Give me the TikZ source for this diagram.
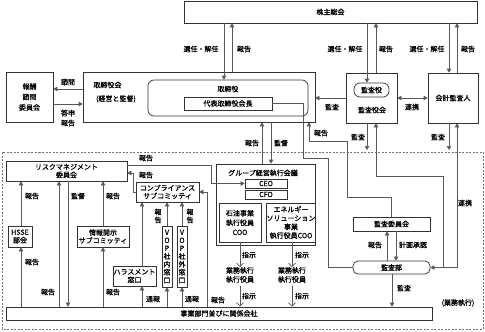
\documentclass[tikz,border=0pt]{standalone}
\usepackage{fontspec}
\setmainfont{Noto Sans CJK JP}[FakeBold=1]
\usetikzlibrary{arrows.meta}
\begin{document}
\begin{tikzpicture}[x=1pt,y=-1pt,
  every node/.style={font=\fontsize{7}{8}\selectfont, inner sep=0pt, text=black},
  box/.style={draw=black!80, line width=0.7pt, align=center},
  ln/.style={draw=black!65, line width=0.7pt},
  arr/.style={ln, -{Triangle[length=4pt,width=4.5pt]}},
  darr/.style={ln, {Triangle[length=4pt,width=4.5pt]}-{Triangle[length=4pt,width=4.5pt]}},
  oarr/.style={ln, -{Straight Barb[length=3.5pt,width=7pt]}},
]
\useasboundingbox (0,0) rectangle (485,332);

% ---------- top level boxes ----------
\node[box, minimum width=293pt, minimum height=22pt] (kabu) at (330.5,12) {株主総会};
\node[box, minimum width=232pt, minimum height=50pt] (torikai) at (199,97) {};
\node[box, rounded corners=6pt, minimum width=160pt, minimum height=36pt] (tori) at (228,98) {};
\node[box, minimum width=88pt, minimum height=13pt] (daihyo) at (228,103.5) {代表取締役会長};
\node[box, minimum width=47pt, minimum height=50pt, font=\fontsize{7}{10.5}\selectfont] (housyu) at (29.5,97) {報酬\\諮問\\委員会};
\node[box, minimum width=51pt, minimum height=50pt] (kansakai) at (371.5,98) {};
\node[box, rounded corners=6pt, minimum width=35pt, minimum height=14pt] (kansayaku) at (371.5,90) {監査役};
\node[box, minimum width=50pt, minimum height=50pt] (kaikei) at (453,98) {会計監査人};

\node (t1) at (107.5,85) {取締役会};
\node (t2) at (116,99) {(経営と監督)};
\node (t3) at (228,89) {取締役};
\node (t4) at (372,110) {監査役会};

% ---------- dashed execution area ----------
\draw[dashed, draw=black!55, line width=0.6pt, dash pattern=on 2pt off 1.5pt] (2,152) rectangle (483,329);

% ---------- group management ----------
\node[box, minimum width=99pt, minimum height=81pt] (group) at (265.5,204.5) {};
\node (gt) at (263,173) {グループ経営執行会議};
\node[box, minimum width=42pt, minimum height=9pt] (ceo) at (266,183.5) {CEO};
\node[box, minimum width=42pt, minimum height=9pt] (cfo) at (266,194.5) {CFO};
\node[box, minimum width=42pt, minimum height=39pt, font=\fontsize{7}{9.5}\selectfont] (sekiyu) at (240,222.5) {石油事業\\執行役員\\COO};
\node[box, minimum width=40pt, minimum height=39pt, font=\fontsize{7}{8.7}\selectfont] (energy) at (291,222.5) {エネルギー\\ソリューション\\事業\\執行役員COO};
\node[align=center, font=\fontsize{7}{9}\selectfont] (gyomu1) at (240,275) {業務執行\\執行役員};
\node[align=center, font=\fontsize{7}{9}\selectfont] (gyomu2) at (292,275) {業務執行\\執行役員};

\node[box, minimum width=426pt, minimum height=13pt] (jigyo) at (219,313.5) {事業部門並びに関係会社};

% ---------- risk management ----------
\node[box, minimum width=121pt, minimum height=20pt] (risk) at (66.5,171) {リスクマネジメント\\委員会};
\node[box, minimum width=24pt, minimum height=21pt] (hsse) at (20,236.5) {HSSE\\部会};
\node[box, minimum width=52pt, minimum height=21pt] (joho) at (103,236.5) {情報開示\\サブコミッティ};
\node[box, minimum width=63pt, minimum height=20pt] (comp) at (167.5,192) {コンプライアンス\\サブコミッティ};
\node[box, minimum width=43pt, minimum height=20pt] (hara) at (134.5,276) {ハラスメント\\窓口};
\node[box, minimum width=10pt, minimum height=61pt] (vopin) at (167,256.5) {V\\O\\P\\社\\内\\窓\\口};
\node[box, minimum width=10pt, minimum height=61pt] (vopout) at (182,256.5) {V\\O\\P\\社\\外\\窓\\口};

% ---------- internal audit ----------
\node[box, minimum width=77pt, minimum height=14pt] (kansaiin) at (391.5,224) {監査委員会};
\node[box, rounded corners=5pt, minimum width=77pt, minimum height=13pt] (kansabu) at (391.5,267.5) {監査部};

% ---------- connectors: top ----------
\draw[arr] (kabu.south -| 224,0) -- (tori.north -| 224,0);
\draw[arr] (torikai.north -| 232,0) -- (kabu.south -| 232,0);
\draw[arr] (kabu.south -| 367,0) -- (kansayaku.north -| 367,0);
\draw[arr] (kansakai.north -| 376,0) -- (kabu.south -| 376,0);
\draw[arr] (kabu.south -| 449,0) -- (kaikei.north -| 449,0);
\draw[arr] (kaikei.north -| 457,0) -- (kabu.south -| 457,0);
\draw[arr] (torikai.west |- 0,89) -- (housyu.east |- 0,89);
\draw[arr] (housyu.east |- 0,104) -- (torikai.west |- 0,104);
\draw[arr] (kansakai.west) -- (torikai.east |- kansakai.west);
\draw[darr] (kansakai.east) -- (kaikei.west);
\coordinate (e1) at (367,150);
\coordinate (e2) at (449,150);
\draw[arr] (kansakai.south -| e1) -- (e1);
\draw[arr] (kaikei.south -| e2) -- (e2);

% report from audit committee to board
\draw[arr] (kansaiin.north -| 391,0) -- (391,197) -- (347,197) -- (347,141) -- (309,141) -- (torikai.south -| 309,0);
% chairman line to audit department
\draw[ln] (daihyo.east) -- (303,103.5) -- (303,158) -- (328,158) -- (328,267.5) -- (kansabu.west);
% cooperation lines
\draw[darr] (kansabu.east) -- (457,267.5) -- (kaikei.south -| 457,0);
\draw[arr] (443,267.5) -- (443,176) -- (376,176) -- (kansakai.south -| 376,0);

% board <-> group
\draw[arr] (group.north -| 262,0) -- (torikai.south -| 262,0);
\draw[arr] (torikai.south -| 271,0) -- (group.north -| 271,0);

% instructions
\draw[oarr] (sekiyu.south) -- (gyomu1.north);
\draw[oarr, shorten <=3pt] (gyomu1.south) -- (jigyo.north -| gyomu1.south);
\draw[oarr] (energy.south -| gyomu2.north) -- (gyomu2.north);
\draw[oarr, shorten <=3pt] (gyomu2.south) -- (jigyo.north -| gyomu2.south);

% ---------- connectors: risk side ----------
\draw[arr] (hsse.north -| 21,0) -- (risk.south -| 21,0);
\draw[arr] (jigyo.north -| 21,0) -- (hsse.south -| 21,0);
\draw[arr] (jigyo.north -| 59,0) -- (risk.south -| 59,0);
\draw[arr] (risk.south -| 68,0) -- (jigyo.north -| 68,0);
\draw[arr] (joho.north) -- (risk.south -| joho.north);
\draw[arr] (jigyo.north -| joho.south) -- (joho.south);
\draw[arr] (comp.west) -- (133,192) -- (133,173) -- (risk.east |- 0,173);
\draw[arr] (risk.east |- 0,165) -- (211,165) -- (211,183.5) -- (ceo.west);
\draw[arr] (hara.north -| 142,0) -- (comp.south -| 142,0);
\draw[arr] (jigyo.north -| 142,0) -- (hara.south -| 142,0);
\draw[arr] (vopin.north) -- (comp.south -| vopin.north);
\draw[arr] (jigyo.north -| vopin.south) -- (vopin.south);
\draw[arr] (vopout.north) -- (comp.south -| vopout.north);
\draw[arr] (jigyo.north -| vopout.south) -- (vopout.south);
\draw[arr] (jigyo.north -| 207,0) -- (207,192) -- (comp.east);

% audit department
\draw[arr] (kansabu.north -| 387,0) -- (kansaiin.south -| 387,0);
\draw[arr] (kansaiin.south -| 396,0) -- (kansabu.north -| 396,0);
\draw[arr] (kansabu.south -| 392,0) -- (jigyo.north -| 392,0);

% ---------- labels ----------
\node at (201,49) {選任・解任};
\node at (244,49) {報告};
\node at (345,49) {選任・解任};
\node at (386,49) {報告};
\node at (427,49) {選任・解任};
\node at (468,49) {報告};
\node at (68,82) {諮問};
\node at (68,113) {答申};
\node at (68,123) {報告};
\node at (332,107) {監査};
\node at (412,107) {連携};
\node at (358,137) {監査};
\node at (438,137) {監査};
\node at (321,133) {報告};
\node at (252,143) {報告};
\node at (281,143) {監督};
\node at (465,203) {連携};
\node at (249,255) {指示};
\node at (249,296) {指示};
\node at (302,255) {指示};
\node at (302,296) {指示};
\node at (375,245) {報告};
\node at (413,245) {計画承認};
\node at (404,288) {監査};
\node at (458,303) {(業務執行)};
\node at (146,158) {報告};
\node at (146,175) {報告};
\node at (32,196) {報告};
\node at (78,196) {監督};
\node at (113,196) {報告};
\node at (32,262) {報告};
\node at (48,292) {報告};
\node at (113,292) {報告};
\node at (153,299) {通報};
\node at (192,299) {通報};
\node at (218,300) {報告};
\node[align=center] at (158,216) {報\\告};
\node[align=center] at (190,216) {報\\告};
\end{tikzpicture}
\end{document}
